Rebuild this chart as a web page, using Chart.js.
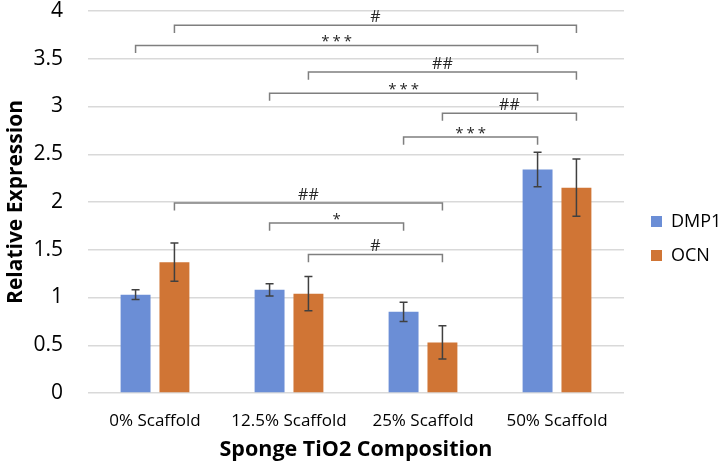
<!DOCTYPE html>
<html>
<head>
<meta charset="utf-8">
<script src="https://cdn.jsdelivr.net/npm/chart.js@4.4.3/dist/chart.umd.min.js"></script>
<style>
  html, body { margin: 0; padding: 0; background: #fff; }
</style>
</head>
<body>
<canvas id="chart" width="725" height="466"></canvas>
<script>
// ---- data ----
const categories = ["0% Scaffold", "12.5% Scaffold", "25% Scaffold", "50% Scaffold"];
const dmp1 = [1.03, 1.08, 0.85, 2.34];
const dmp1Err = [0.05, 0.065, 0.10, 0.18];
const ocn = [1.37, 1.04, 0.53, 2.15];
const ocnErr = [0.20, 0.18, 0.175, 0.30];

// significance brackets: [dataset, category] ends, height, label
const bracketFrom = [[1, 0], [0, 0], [1, 1], [0, 1], [1, 2], [0, 2], [1, 0], [0, 1], [1, 1]];
const bracketTo = [[1, 3], [0, 3], [1, 3], [0, 3], [1, 3], [0, 3], [1, 2], [0, 2], [1, 2]];
const bracketY = [3.85, 3.64, 3.36, 3.14, 2.93, 2.68, 1.99, 1.78, 1.45];
const bracketLabels = ["#", "***", "##", "***", "##", "***", "##", "*", "#"];

const FONT = "'Open Sans', sans-serif";

// error bars + brackets drawn on top of the bars
const annotationsPlugin = {
    id: "annotations",
    afterLayout(chart) {
        // nudge the legend a little right, like the original
        chart.legend.left += 11;
        chart.legend.right += 11;
    },
    afterDatasetsDraw(chart) {
        const ctx = chart.ctx;
        const y = chart.scales.y;
        const errs = [dmp1Err, ocnErr];

        // error bars
        ctx.save();
        ctx.strokeStyle = "#404040";
        ctx.lineWidth = 1.5;
        chart.data.datasets.forEach((ds, di) => {
            chart.getDatasetMeta(di).data.forEach((bar, ci) => {
                const v = ds.data[ci];
                const e = errs[di][ci];
                const top = y.getPixelForValue(v + e);
                const bot = y.getPixelForValue(v - e);
                ctx.beginPath();
                ctx.moveTo(bar.x, top);
                ctx.lineTo(bar.x, bot);
                ctx.moveTo(bar.x - 4, top);
                ctx.lineTo(bar.x + 4, top);
                ctx.moveTo(bar.x - 4, bot);
                ctx.lineTo(bar.x + 4, bot);
                ctx.stroke();
            });
        });
        ctx.restore();

        // brackets
        ctx.save();
        ctx.strokeStyle = "#7f7f7f";
        ctx.lineWidth = 1.5;
        ctx.fillStyle = "#262626";
        ctx.textAlign = "center";
        ctx.textBaseline = "bottom";
        bracketLabels.forEach((label, i) => {
            const a = chart.getDatasetMeta(bracketFrom[i][0]).data[bracketFrom[i][1]];
            const b = chart.getDatasetMeta(bracketTo[i][0]).data[bracketTo[i][1]];
            const ly = y.getPixelForValue(bracketY[i]);
            const ty = y.getPixelForValue(bracketY[i] - 0.08);
            ctx.beginPath();
            ctx.moveTo(a.x, ty);
            ctx.lineTo(a.x, ly);
            ctx.lineTo(b.x, ly);
            ctx.lineTo(b.x, ty);
            ctx.stroke();
            const star = label.includes("*");
            ctx.font = (star ? "15px " : "16px ") + FONT;
            ctx.letterSpacing = star ? "3px" : "0px";
            ctx.fillText(label, (a.x + b.x) / 2 + (star ? 1.5 : 0), ly + (star ? 4 : 0));
        });
        ctx.restore();
    }
};

new Chart(document.getElementById("chart"), {
    type: "bar",
    data: {
        labels: categories,
        datasets: [
            { label: "DMP1", data: dmp1, backgroundColor: "#6b8ed6" },
            { label: "OCN", data: ocn, backgroundColor: "#d07535" }
        ]
    },
    options: {
        responsive: false,
        animation: false,
        datasets: {
            bar: { categoryPercentage: 0.58, barPercentage: 0.77 }
        },
        layout: {
            autoPadding: false,
            padding: { top: 11, right: 8, left: 3, bottom: 0 }
        },
        plugins: {
            legend: {
                position: "right",
                maxWidth: 93,
                labels: {
                    boxWidth: 11,
                    boxHeight: 11,
                    padding: 16,
                    color: "#000",
                    font: { family: FONT, size: 18 }
                }
            },
            tooltip: { enabled: false }
        },
        scales: {
            y: {
                min: 0,
                max: 4,
                afterFit: scale => {
                    scale.width = 85;
                    scale.paddingTop = 0;
                    scale.paddingBottom = 0;
                },
                ticks: {
                    stepSize: 0.5,
                    padding: 25,
                    color: "#000",
                    font: { family: FONT, size: 21 },
                    callback: value => String(value)
                },
                grid: { color: "#d9d9d9", lineWidth: 1.5, drawTicks: false },
                border: { display: false },
                title: {
                    display: true,
                    text: "Relative Expression",
                    color: "#000",
                    font: { family: FONT, size: 21, weight: "bold" },
                    padding: 0
                }
            },
            x: {
                afterFit: scale => { scale.height = 73; },
                ticks: {
                    padding: 10,
                    color: "#000",
                    font: { family: FONT, size: 17 }
                },
                grid: { display: false },
                border: { display: false },
                title: {
                    display: true,
                    text: "Sponge TiO2 Composition",
                    color: "#000",
                    font: { family: FONT, size: 21.5, weight: "bold" },
                    padding: { top: 0, bottom: 3 }
                }
            }
        }
    },
    plugins: [annotationsPlugin]
});
</script>
</body>
</html>
